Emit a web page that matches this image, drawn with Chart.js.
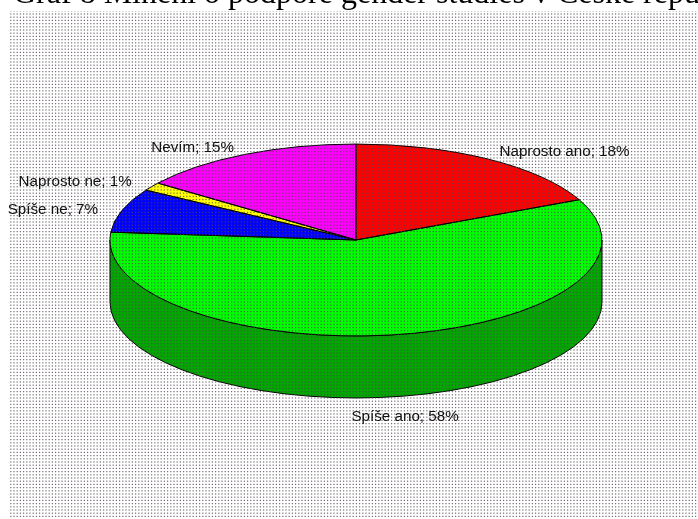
<!DOCTYPE html>
<html>
<head>
<meta charset="utf-8">
<title>Graf 8</title>
<script src="https://cdn.jsdelivr.net/npm/chart.js@4"></script>
<style>
  html, body { margin: 0; padding: 0; background: #fff; overflow: hidden; }
  #wrap { position: relative; width: 698px; height: 519px; overflow: hidden; }
  #title { position: absolute; left: 13px; top: -26px; white-space: nowrap; font: 32px "Liberation Serif", serif; color: #000; }
  #chart { position: absolute; left: 0; top: 0; }
</style>
</head>
<body>
<div id="wrap">
  <canvas id="chart" width="698" height="519"></canvas>
  <div id="title">Graf 8 Mínění o podpoře gender studies v České republice</div>
</div>
<script>
const categories = ['Naprosto ano', 'Spíše ano', 'Spíše ne', 'Naprosto ne', 'Nevím'];
// unrounded shares, the labels show them rounded
const shares = [18.1, 58.2, 7.4, 1.4, 14.9];
const topColors = ['#ff0000', '#00ff00', '#0000ff', '#ffff00', '#ff00ff'];
const sideColors = ['#a80000', '#00a800', '#0000a8', '#a8a800', '#a800a8'];

// pie look
const squash = 0.39;
const depth = 62;
const pieY = 240;
// label offsets from the rim of each slice
const labelOffsets = [[11, -7], [6, 20], [-24, -1], [-20, -5], [-11, -7]];

// the chart lays a circle out, this turns it into the tilted disc
function tilt(ctx, arc, shift) {
  ctx.translate(0, pieY + shift);
  ctx.scale(1, squash);
  ctx.translate(0, -arc.y);
}

function dotPattern(ctx, color, size) {
  const tile = document.createElement('canvas');
  tile.width = 16;
  tile.height = 16;
  const t = tile.getContext('2d');
  t.fillStyle = color;
  for (let i = 0; i < 5; i++) {
    for (let j = 0; j < 5; j++) {
      t.fillRect(i * 3.2 + 0.6, j * 3.2 + 0.6, size, size);
    }
  }
  return ctx.createPattern(tile, 'repeat');
}

const tiltedPie = {
  id: 'tiltedPie',
  beforeDatasetDraw(chart, args) {
    const ctx = chart.ctx;
    const arcs = args.meta.data;

    // side wall, only the front half of the disc shows it
    arcs.forEach((arc, i) => {
      const from = Math.max(arc.startAngle, 0);
      const to = Math.min(arc.endAngle, Math.PI);
      if (to <= from) return;
      ctx.save();
      ctx.beginPath();
      ctx.save();
      tilt(ctx, arc, 0);
      ctx.arc(arc.x, arc.y, arc.outerRadius, from, to);
      ctx.restore();
      ctx.save();
      tilt(ctx, arc, depth);
      ctx.arc(arc.x, arc.y, arc.outerRadius, to, from, true);
      ctx.restore();
      ctx.closePath();
      ctx.fillStyle = sideColors[i];
      ctx.strokeStyle = '#000';
      ctx.lineWidth = 1;
      ctx.fill();
      ctx.stroke();
      ctx.restore();
    });

    ctx.save();
    tilt(ctx, arcs[0], 0);
  },
  afterDatasetDraw(chart, args) {
    const ctx = chart.ctx;
    const arcs = args.meta.data;
    ctx.restore();

    // outlines stroked outside the squash so they keep an even width
    arcs.forEach(arc => {
      ctx.save();
      ctx.beginPath();
      ctx.save();
      tilt(ctx, arc, 0);
      ctx.moveTo(arc.x, arc.y);
      ctx.arc(arc.x, arc.y, arc.outerRadius, arc.startAngle, arc.endAngle);
      ctx.closePath();
      ctx.restore();
      ctx.strokeStyle = '#000';
      ctx.lineWidth = 1;
      ctx.stroke();
      ctx.restore();
    });
  },
  afterDraw(chart) {
    const ctx = chart.ctx;
    const arcs = chart.getDatasetMeta(0).data;

    // the halftone covers the paper and the pie alike
    ctx.save();
    ctx.fillStyle = dotPattern(ctx, 'rgba(80,70,80,0.8)', 1.2);
    ctx.fillRect(10, 11, 688, 508);
    ctx.restore();

    // slice labels
    ctx.save();
    ctx.font = '15.2px "Liberation Sans", sans-serif';
    ctx.fillStyle = '#111';
    ctx.textBaseline = 'middle';
    arcs.forEach((arc, i) => {
      const mid = (arc.startAngle + arc.endAngle) / 2;
      const rimX = arc.x + Math.cos(mid) * arc.outerRadius;
      let rimY = pieY + Math.sin(mid) * arc.outerRadius * squash;
      if (Math.sin(mid) > 0) rimY += depth;
      const c = Math.cos(mid);
      ctx.textAlign = Math.abs(c) < 0.3 && Math.sin(mid) > 0 ? 'center' : (c > 0 ? 'left' : 'right');
      ctx.fillText(categories[i] + '; ' + Math.round(shares[i]) + '%', rimX + labelOffsets[i][0], rimY + labelOffsets[i][1]);
    });
    ctx.restore();
  }
};

new Chart(document.getElementById('chart'), {
  type: 'pie',
  data: {
    labels: categories,
    datasets: [{
      data: shares,
      backgroundColor: topColors,
      borderWidth: 0,
      hoverOffset: 0
    }]
  },
  options: {
    responsive: false,
    animation: false,
    radius: 246,
    layout: { padding: { left: 110, right: 96, top: 13, bottom: 14 } },
    plugins: { legend: { display: false }, tooltip: { enabled: false } }
  },
  plugins: [tiltedPie]
});
</script>
</body>
</html>
